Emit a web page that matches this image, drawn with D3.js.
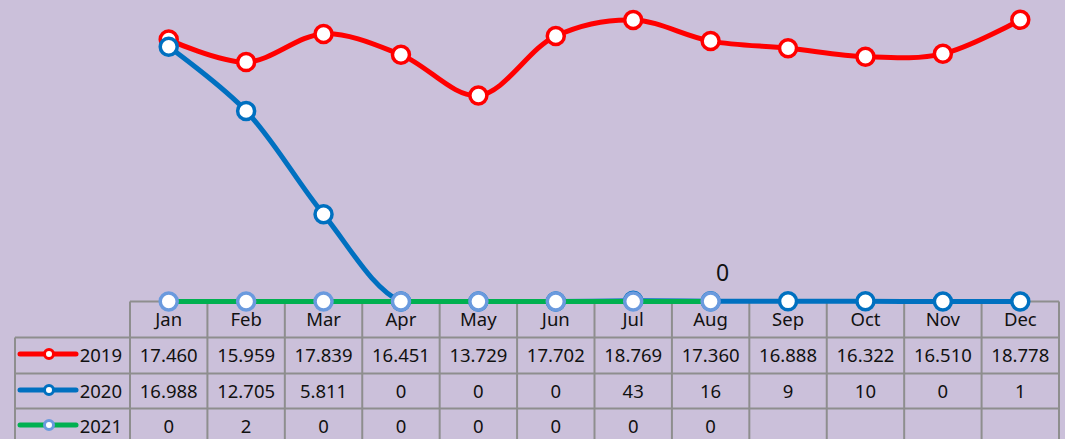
<!DOCTYPE html>
<html>
<meta charset="utf-8">
<style>
  body {
    margin: 0;
    background: #cbc0da;
  }

  text {
    font-family: "Noto Sans", sans-serif;
    fill: #111;
  }

  .grid {
    stroke: #8e8e8e;
    stroke-width: 2;
  }
</style>

<body>
  <script src="https://d3js.org/d3.v7.min.js"></script>

  <script>
    let width = 1065,
      height = 439;

    // chart values
    let months = ["Jan", "Feb", "Mar", "Apr", "May", "Jun", "Jul", "Aug", "Sep", "Oct", "Nov", "Dec"];
    let years = ["2019", "2020", "2021"];
    let values2019 = [17460, 15959, 17839, 16451, 13729, 17702, 18769, 17360, 16888, 16322, 16510, 18778];
    let values2020 = [16988, 12705, 5811, 0, 0, 0, 43, 16, 9, 10, 0, 1];
    let values2021 = [0, 2, 0, 0, 0, 0, 0, 0];
    let labels2019 = ["17.460", "15.959", "17.839", "16.451", "13.729", "17.702", "18.769", "17.360", "16.888", "16.322", "16.510", "18.778"];
    let labels2020 = ["16.988", "12.705", "5.811", "0", "0", "0", "43", "16", "9", "10", "0", "1"];
    let labels2021 = ["0", "2", "0", "0", "0", "0", "0", "0"];
    let yMax = 20000;

    let series = [
      { name: years[0], values: values2019, labels: labels2019, line: "#ff0000", marker: "#ff0000" },
      { name: years[1], values: values2020, labels: labels2020, line: "#0070c0", marker: "#0070c0" },
      { name: years[2], values: values2021, labels: labels2021, line: "#00b050", marker: "#6a9ade" }
    ];

    let svg = d3.select("body").append("svg")
      .attr("width", width)
      .attr("height", height);

    let x = d3.scaleBand()
      .domain(months)
      .range([130, 1059]);

    let y = d3.scaleLinear()
      .domain([0, yMax])
      .range([301.5, 1.5]);

    let cx = m => x(m) + x.bandwidth() / 2;

    let rowTop = [301.5, 337.5, 373.5, 408.5, 444];
    let fontSize = 18.5;

    // plot area clip, like the spreadsheet does
    svg.append("clipPath")
      .attr("id", "plot")
      .append("rect")
      .attr("x", 0).attr("y", 0)
      .attr("width", width)
      .attr("height", y(0) + 2.5);

    function drawTable() {
      let g = svg.append("g");

      // horizontal rules
      g.append("line").attr("class", "grid")
        .attr("x1", 130).attr("x2", 1059)
        .attr("y1", rowTop[0]).attr("y2", rowTop[0]);
      rowTop.slice(1).forEach(r => {
        g.append("line").attr("class", "grid")
          .attr("x1", 15).attr("x2", 1059)
          .attr("y1", r).attr("y2", r);
      });

      // vertical rules
      g.append("line").attr("class", "grid")
        .attr("x1", 15).attr("x2", 15)
        .attr("y1", rowTop[1]).attr("y2", height);
      g.selectAll(".vcol")
        .data(months.concat(["end"]))
        .join("line")
        .attr("class", "grid vcol")
        .attr("x1", (d, i) => i < months.length ? x(d) : x.range()[1])
        .attr("x2", (d, i) => i < months.length ? x(d) : x.range()[1])
        .attr("y1", rowTop[0])
        .attr("y2", height);

      // month header
      g.selectAll(".month")
        .data(months)
        .join("text")
        .attr("class", "month")
        .attr("x", d => cx(d))
        .attr("y", 326)
        .attr("text-anchor", "middle")
        .attr("font-size", fontSize)
        .text(d => d);

      series.forEach((s, i) => {
        let base = rowTop[i + 1] + 24;
        let mid = rowTop[i + 1] + 16.5;

        // legend key
        g.append("line")
          .attr("x1", 20).attr("x2", 76)
          .attr("y1", mid).attr("y2", mid)
          .attr("stroke", s.line)
          .attr("stroke-width", 5)
          .attr("stroke-linecap", "round");
        g.append("circle")
          .attr("cx", 49).attr("cy", mid).attr("r", 4.5)
          .attr("fill", "#fff")
          .attr("stroke", s.marker)
          .attr("stroke-width", 3);
        g.append("text")
          .attr("x", 122).attr("y", base)
          .attr("text-anchor", "end")
          .attr("font-size", fontSize)
          .text(s.name);

        g.selectAll(".val" + i)
          .data(s.labels)
          .join("text")
          .attr("class", "val" + i)
          .attr("x", (d, j) => cx(months[j]))
          .attr("y", base)
          .attr("text-anchor", "middle")
          .attr("font-size", fontSize)
          .text(d => d);
      });
    }

    function drawLines() {
      let line = d3.line()
        .x((d, i) => cx(months[i]))
        .y(d => y(d))
        .curve(d3.curveCatmullRom.alpha(0.5));

      series.forEach(s => {
        let g = svg.append("g");
        g.append("path")
          .datum(s.values)
          .attr("clip-path", "url(#plot)")
          .attr("fill", "none")
          .attr("stroke", s.line)
          .attr("stroke-width", 5)
          .attr("d", line);

        g.selectAll("circle")
          .data(s.values)
          .join("circle")
          .attr("cx", (d, i) => cx(months[i]))
          .attr("cy", d => y(d))
          .attr("r", 8.5)
          .attr("fill", "#fff")
          .attr("stroke", s.marker)
          .attr("stroke-width", 3.5);
      });

      // data label on the last 2021 point
      let last = values2021.length - 1;
      svg.append("text")
        .attr("x", cx(months[last]) + 12)
        .attr("y", y(values2021[last]) - 21)
        .attr("text-anchor", "middle")
        .attr("font-size", 23)
        .text(labels2021[last]);
    }

    drawTable();
    drawLines();
  </script>

</body>

</html>
